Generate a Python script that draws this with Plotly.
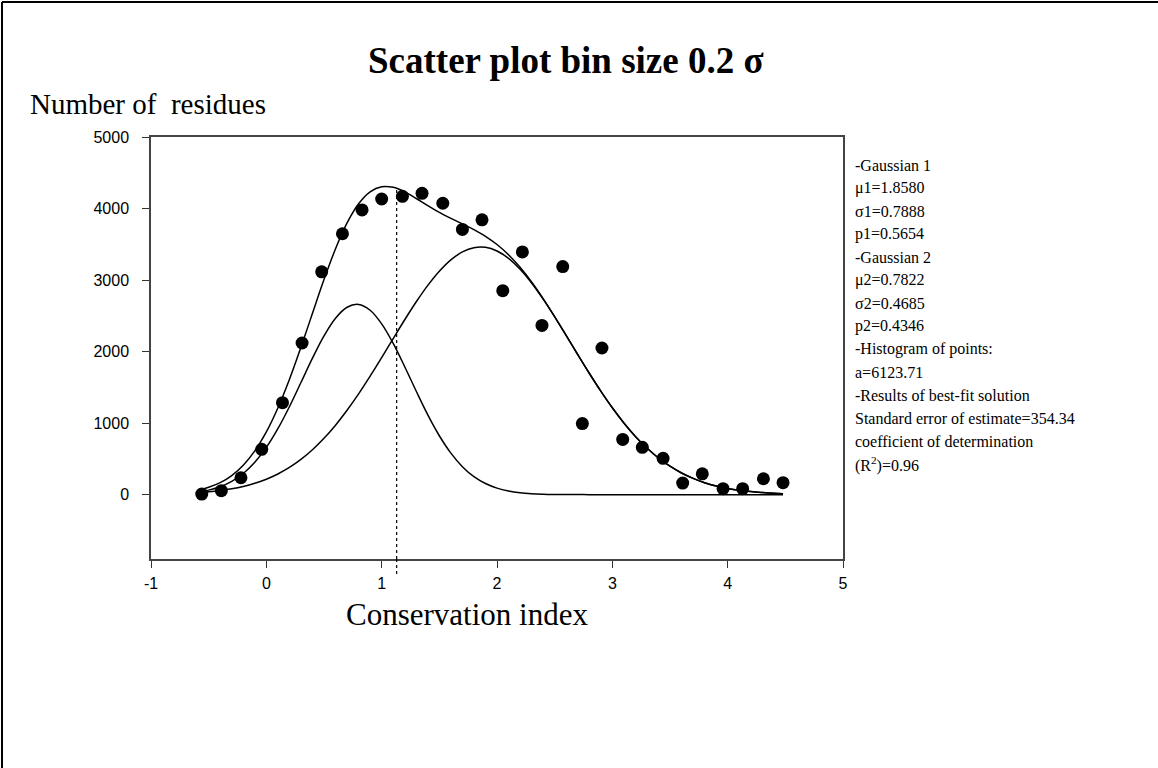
import plotly.graph_objects as go

# ---------------- data ----------------
point_x = [-0.56, -0.39, -0.22, -0.04, 0.14, 0.31, 0.48, 0.66, 0.83, 1.00,
           1.18, 1.35, 1.53, 1.70, 1.87, 2.05, 2.22, 2.39, 2.57, 2.74,
           2.91, 3.09, 3.26, 3.44, 3.61, 3.78, 3.96, 4.13, 4.31, 4.48]
point_y = [8, 55, 236, 633, 1286, 2120, 3115, 3647, 3981, 4133,
           4171, 4213, 4074, 3708, 3842, 2851, 3393, 2365, 3189, 994,
           2050, 772, 661, 508, 161, 291, 83, 83, 222, 167]

curve_x = [-0.56, -0.5, -0.4, -0.3, -0.2, -0.1, 0.0, 0.1, 0.2, 0.3, 0.4, 0.5,
           0.6, 0.7, 0.8, 0.9, 1.0, 1.1, 1.2, 1.3, 1.4, 1.5, 1.6, 1.7, 1.8, 1.9,
           2.0, 2.1, 2.2, 2.3, 2.4, 2.5, 2.6, 2.7, 2.8, 2.9, 3.0, 3.1, 3.2, 3.3,
           3.4, 3.5, 3.6, 3.7, 3.8, 3.9, 4.0, 4.1, 4.2, 4.3, 4.4, 4.48]
gauss1_y = [32, 40, 58, 82, 115, 159, 216, 289, 380, 492, 627, 787,
            971, 1179, 1408, 1656, 1916, 2182, 2445, 2696, 2925, 3123, 3282, 3393, 3453, 3457,
            3406, 3303, 3151, 2959, 2734, 2486, 2224, 1958, 1697, 1447, 1214, 1002, 814, 651,
            512, 397, 302, 227, 167, 121, 87, 61, 42, 29, 19, 14]
gauss2_y = [44, 63, 110, 185, 296, 452, 660, 922, 1229, 1567, 1908, 2220,
            2467, 2620, 2659, 2578, 2388, 2114, 1788, 1445, 1115, 823, 580, 391, 251, 155,
            91, 51, 27, 14, 7, 3, 1, 1, 0, 0, 0, 0, 0, 0,
            0, 0, 0, 0, 0, 0, 0, 0, 0, 0, 0, 0]
sum_y = [75, 103, 168, 267, 411, 611, 876, 1211, 1609, 2059, 2535, 3006,
         3438, 3799, 4067, 4234, 4304, 4296, 4233, 4140, 4040, 3946, 3862, 3784, 3704, 3612,
         3497, 3354, 3178, 2973, 2741, 2489, 2225, 1959, 1697, 1447, 1214, 1002, 814, 651,
         512, 397, 302, 227, 167, 121, 87, 61, 42, 29, 19, 14]

divider_x = 1.13
divider_top = 4284

x_ticks = [-1, 0, 1, 2, 3, 4, 5]
x_tick_text = ["-1", "0", "1", "2", "3", "4", "5"]
y_ticks = [0, 1000, 2000, 3000, 4000, 5000]
x_range = [-1, 5]
y_range = [-900, 5000]

title_text = "Scatter plot bin size 0.2 σ"
y_title = "Number of  residues"
x_title = "Conservation index"
info_lines = [
    "-Gaussian 1", "μ1=1.8580", "σ1=0.7888", "p1=0.5654",
    "-Gaussian 2", "μ2=0.7822", "σ2=0.4685", "p2=0.4346",
    "-Histogram of points:", "a=6123.71",
    "-Results of best-fit solution", "Standard error of estimate=354.34",
    "coefficient of determination", "(R<sup>2</sup>)=0.96",
]

# ---------------- layout geometry ----------------
W, H = 1158, 768
L, R, T, B = 151, 843, 137, 559
PW, PH = R - L, B - T

def px(xp):
    return (xp - L) / PW

def py(yp):
    return (B - yp) / PH

serif = "Liberation Serif, Times New Roman, serif"
sans = "Liberation Sans, Arial, sans-serif"

fig = go.Figure()
line_style = dict(color="black", width=1.5, shape="spline", smoothing=1.0)
fig.add_trace(go.Scatter(x=curve_x, y=gauss1_y, mode="lines", line=line_style, hoverinfo="skip"))
fig.add_trace(go.Scatter(x=curve_x, y=gauss2_y, mode="lines", line=line_style, hoverinfo="skip"))
fig.add_trace(go.Scatter(x=curve_x, y=sum_y, mode="lines", line=line_style, hoverinfo="skip"))
fig.add_trace(go.Scatter(x=point_x, y=point_y, mode="markers",
                         marker=dict(color="black", size=13, line=dict(width=0)),
                         cliponaxis=False))

# dotted divider line (inside plot) + short extension below the axis
fig.add_shape(type="line", xref="x", yref="y", x0=divider_x, x1=divider_x,
              y0=y_range[0], y1=divider_top, line=dict(color="black", width=1.2, dash="dot"))
dx_paper = (divider_x - x_range[0]) / (x_range[1] - x_range[0])
fig.add_shape(type="line", xref="paper", yref="paper", x0=dx_paper, x1=dx_paper,
              y0=0, y1=py(577), line=dict(color="black", width=1.2, dash="dot"))

# outer frame (left and top edges of the page)
fig.add_shape(type="line", xref="paper", yref="paper", x0=px(2), x1=px(2), y0=py(2), y1=py(768),
              line=dict(color="black", width=2))
fig.add_shape(type="line", xref="paper", yref="paper", x0=px(2), x1=px(1158), y0=py(2), y1=py(2),
              line=dict(color="black", width=2))

ann = []
ann.append(dict(text=f"<b>{title_text}</b>", x=px(566), y=py(60), xref="paper", yref="paper",
                showarrow=False, xanchor="center", yanchor="middle",
                font=dict(family=serif, size=37, color="black")))
ann.append(dict(text=y_title, x=px(28), y=py(104), xref="paper", yref="paper",
                showarrow=False, xanchor="left", yanchor="middle",
                font=dict(family=serif, size=29, color="black")))
ann.append(dict(text=x_title, x=px(467), y=py(614), xref="paper", yref="paper",
                showarrow=False, xanchor="center", yanchor="middle",
                font=dict(family=serif, size=31, color="black")))
for i, t in enumerate(info_lines):
    ann.append(dict(text=t, x=px(853), y=py(165 + i * 23.0), xref="paper", yref="paper",
                    showarrow=False, xanchor="left", yanchor="middle",
                    font=dict(family=serif, size=16, color="black")))

fig.update_layout(
    width=W, height=H,
    margin=dict(l=L, r=W - R, t=T, b=H - B, pad=0),
    paper_bgcolor="white", plot_bgcolor="white",
    showlegend=False,
    annotations=ann,
    xaxis=dict(range=x_range, tickvals=x_ticks, ticktext=x_tick_text, ticks="outside",
               ticklen=7, tickwidth=1.2,
               tickcolor="#333", showline=True, linecolor="#444", linewidth=1.5, mirror=True,
               showgrid=False, zeroline=False, ticklabelstandoff=2,
               tickfont=dict(family=sans, size=16, color="black")),
    yaxis=dict(range=y_range, tickvals=y_ticks, ticks="outside", ticklen=7, tickwidth=1.2,
               tickcolor="#333", showline=True, linecolor="#444", linewidth=1.5, mirror=True,
               showgrid=False, zeroline=False, ticklabelstandoff=10,
               tickfont=dict(family=sans, size=16, color="black")),
)

fig.write_html("out.html")
